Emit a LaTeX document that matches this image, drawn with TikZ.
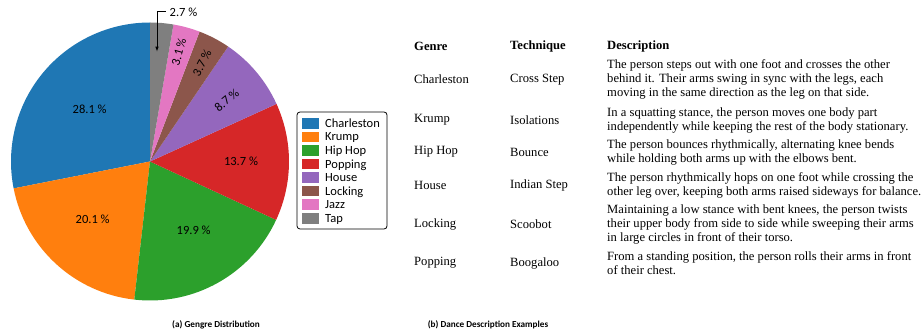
\documentclass[tikz,border=0pt]{standalone}
\usepackage{fontspec}
\setmainfont{Liberation Serif}
\newfontfamily\carlito{Carlito}
\usetikzlibrary{arrows.meta}
\definecolor{cCharleston}{HTML}{1F77B4}
\definecolor{cKrump}{HTML}{FF7F0E}
\definecolor{cHipHop}{HTML}{2CA02C}
\definecolor{cPopping}{HTML}{D62728}
\definecolor{cHouse}{HTML}{9467BD}
\definecolor{cLocking}{HTML}{8C564B}
\definecolor{cJazz}{HTML}{E377C2}
\definecolor{cTap}{HTML}{7F7F7F}
\newcommand\pieR{139}
\newcommand\pieslice[3]{\fill[#3] (pc) -- ++(#1:\pieR) arc[start angle=#1,end angle=#2,radius=\pieR] -- cycle;}
\begin{document}
\begin{tikzpicture}[x=1pt,y=1pt,
  pct/.style={font=\carlito\fontsize{12.5}{15}\selectfont, inner sep=0pt},
  legtext/.style={font=\carlito\fontsize{12.5}{15}\selectfont, inner sep=0pt, anchor=base west},
  caption/.style={font=\carlito\bfseries\fontsize{9.2}{11}\selectfont, inner sep=0pt},
  tab/.style={font=\fontsize{12.6}{14}\selectfont, inner sep=0pt, anchor=west, align=left},
  tabhead/.style={tab, font=\bfseries\fontsize{12.6}{14}\selectfont}]
\useasboundingbox (0,0) rectangle (923,335);
\coordinate (pc) at (150,173.5);
% pie slices
\pieslice{90}{191.16}{cCharleston}
\pieslice{191.16}{263.52}{cKrump}
\pieslice{263.52}{335.16}{cHipHop}
\pieslice{335.16}{384.48}{cPopping}
\pieslice{384.48}{415.8}{cHouse}
\pieslice{415.8}{429.12}{cLocking}
\pieslice{429.12}{440.28}{cJazz}
\pieslice{440.28}{450}{cTap}
% percentage labels
\node[pct] (l281) at (89.7,225.7) {28.1 \%};
\node[pct] (l201) at (92.7,116) {20.1 \%};
\node[pct] (l199) at (193.7,105) {19.9 \%};
\node[pct] (l137) at (241,174) {13.7 \%};
\node[pct,rotate=40] (l87) at (226.7,235) {8.7 \%};
\node[pct,rotate=62.5] (l37) at (202,272) {3.7 \%};
\node[pct,rotate=74.7] (l31) at (178.7,283.3) {3.1 \%};
\node[pct,anchor=west] (l27) at (169.5,323) {2.7 \%};
\coordinate (tapin) at (157,283.3);
\draw[line width=0.8pt,-{Latex[length=5pt,width=3.5pt]}] ([xshift=-3.8pt,yshift=0.6pt]l27.west) -| (tapin);
% legend
\draw[line width=0.8pt,rounded corners=3pt] (297,223) rectangle (387,106);
\foreach \i/\nm/\col in {0/Charleston/cCharleston,1/Krump/cKrump,2/Hip Hop/cHipHop,3/Popping/cPopping,4/House/cHouse,5/Locking/cLocking,6/Jazz/cJazz,7/Tap/cTap}{
  \pgfmathsetmacro\yy{335-123.3-13.57*\i}
  \fill[\col] (302,\yy-5.3) rectangle (318.5,\yy+5.3);
  \node[legtext] (leg\i) at (325,\yy-4) {\nm};
}
% table
\node[tabhead] (hG) at (414,289) {Genre};
\node[tabhead] (hT) at (510,289) {Technique};
\node[tabhead] (hD) at (607,289) {Description};

\node[tab] (d1) at (607,255.5) {The person steps out with one foot and crosses the other\\behind it. Their arms swing in sync with the legs, each\\moving in the same direction as the leg on that side.};
\node[tab] (g1) at (414,255.5) {Charleston};
\node[tab] (t1) at (510,255.5) {Cross Step};

\node[tab] (d2) at (607,215) {In a squatting stance, the person moves one body part\\independently while keeping the rest of the body stationary.};
\node[tab] (g2) at (414,215) {Krump};
\node[tab] (t2) at (510,215) {Isolations};

\node[tab] (d3) at (607,183) {The person bounces rhythmically, alternating knee bends\\while holding both arms up with the elbows bent.};
\node[tab] (g3) at (414,183) {Hip Hop};
\node[tab] (t3) at (510,183) {Bounce};

\node[tab] (d4) at (607,149.5) {The person rhythmically hops on one foot while crossing the\\other leg over, keeping both arms raised sideways for balance.};
\node[tab] (g4) at (414,149.5) {House};
\node[tab] (t4) at (510,149.5) {Indian Step};

\node[tab] (d5) at (607,111) {Maintaining a low stance with bent knees, the person twists\\their upper body from side to side while sweeping their arms\\in large circles in front of their torso.};
\node[tab] (g5) at (414,111) {Locking};
\node[tab] (t5) at (510,111) {Scoobot};

\node[tab] (d6) at (607,72) {From a standing position, the person rolls their arms in front\\of their chest.};
\node[tab] (g6) at (414,72) {Popping};
\node[tab] (t6) at (510,72) {Boogaloo};
% captions
\node[caption] (capa) at (216,10) {(a) Gengre Distribution};
\node[caption] (capb) at (488,10) {(b) Dance Description Examples};
\end{tikzpicture}
\end{document}
